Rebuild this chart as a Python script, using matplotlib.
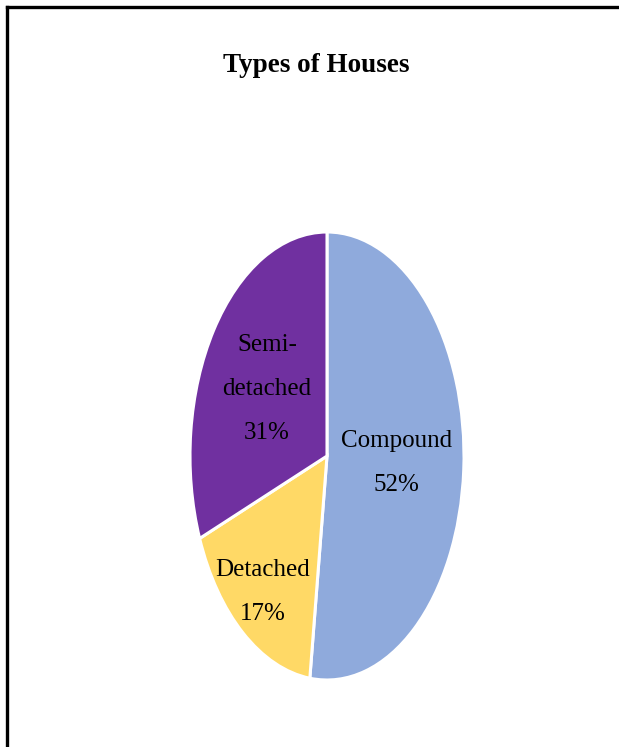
#!/usr/bin/env python
# Pie chart of house types (stretched vertically, like the source figure)

import matplotlib
matplotlib.use('Agg')
import matplotlib.pyplot as plt
import numpy as np
from matplotlib.lines import Line2D

# Data
categories = ['Compound', 'Detached', 'Semi-\ndetached']
shares     = [52, 17, 31]
colors     = ['#8FAADC', '#FFD966', '#7030A0']
title      = 'Types of Houses'

plt.rcParams['font.family'] = ['Liberation Serif', 'DejaVu Serif']

W, H = 619, 747
fig = plt.figure(figsize=(W/100., H/100.), dpi=100)

# frame lines on top and left like the cropped original
fig.add_artist(Line2D([6.5/W, 1.0], [1-6.5/H, 1-6.5/H], color='black',
                      lw=2.4, transform=fig.transFigure))
fig.add_artist(Line2D([6.5/W, 6.5/W], [0.0, 1-6.5/H], color='black',
                      lw=2.4, transform=fig.transFigure))

fig.text(316/W, 1-66/H, title, ha='center', va='center',
         fontsize=19.5, fontweight='bold')

# axes box equals the ellipse bounding box -> oval pie
x0, x1, y0, y1 = 190, 464, 232, 680
ax = fig.add_axes([x0/W, 1-y1/H, (x1-x0)/W, (y1-y0)/H])
wedges, _ = ax.pie(shares, colors=colors, startangle=90, counterclock=False,
                   wedgeprops=dict(edgecolor='white', linewidth=2.2))
ax.set_aspect('auto')
ax.set_xlim(-1, 1)
ax.set_ylim(-1, 1)
ax.axis('off')

# label distance per wedge (fraction of radius)
ldist = [0.51, 0.77, 0.53]
for w, name, pct, d in zip(wedges, categories, shares, ldist):
    ang = np.deg2rad(0.5*(w.theta1 + w.theta2))
    ax.text(d*np.cos(ang), d*np.sin(ang), '%s\n%d%%' % (name, pct),
            ha='center', va='center', fontsize=18, linespacing=2.3,
            color='black')

fig.savefig('out.png', dpi=100)
